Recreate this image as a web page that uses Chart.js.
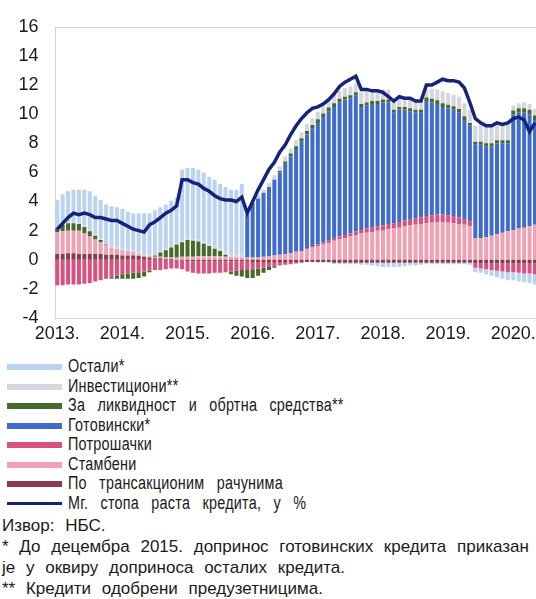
<!DOCTYPE html>
<html>
<head>
<meta charset="utf-8">
<script src="https://cdn.jsdelivr.net/npm/chart.js@4.4.1/dist/chart.umd.min.js"></script>
<style>
  html, body { margin:0; padding:0; background:#fff; }
  body { width:536px; height:599px; overflow:hidden; position:relative; font-family:"Liberation Sans", Arial, sans-serif; color:#1a1a1a; }
  #wrap { position:absolute; left:0; top:0; width:540px; height:352px; }
  #legend { position:absolute; left:0; top:357px; width:536px; }
  .row { position:relative; height:19.5px; }
  .sw { position:absolute; left:7px; top:7px; width:55px; height:6px; }
  .ln { position:absolute; left:7px; top:8.5px; width:55px; height:3px; }
  .tx { position:absolute; left:68px; top:0; line-height:19.5px; font-size:18px; white-space:nowrap;
        word-spacing:10px; letter-spacing:0.3px; transform:scaleX(0.8); transform-origin:0 50%; }
  #notes { position:absolute; left:2px; top:514.5px; width:620px; font-size:17px; line-height:21px; white-space:nowrap; word-spacing:6px; }
</style>
</head>
<body>
<div id="wrap"><canvas id="c" width="540" height="352"></canvas></div>
<div id="legend"></div>
<div id="notes"></div>
<script>
// ---- categories (monthly, Jan 2013 – May 2020) ----
const years = [2013, 2014, 2015, 2016, 2017, 2018, 2019, 2020];
const yearTickLabels = ['2013.', '2014.', '2015.', '2016.', '2017.', '2018.', '2019.', '2020.'];
const monthsShown = 89;
const categories = [];
for (let i = 0; i < monthsShown; i++) {
  categories.push(years[Math.floor(i / 12)] + '-' + String(i % 12 + 1).padStart(2, '0'));
}

// ---- series (contributions, p.p.) ----
const poTransakcionim = [
  0.4,0.4,0.45,0.45,0.4,0.4,0.4,0.4,0.4,0.35,0.35,0.35,
  0.3,0.3,0.3,0.25,0.2,0.15,0.1,0.1,0.05,0.05,0,-0.05,
  -0.1,-0.1,-0.1,-0.1,-0.1,-0.1,-0.1,-0.1,-0.1,-0.1,-0.1,-0.1,
  -0.15,-0.15,-0.15,-0.15,-0.15,-0.15,-0.15,-0.15,-0.15,-0.15,-0.15,-0.15,
  -0.15,-0.15,-0.15,-0.2,-0.2,-0.2,-0.2,-0.2,-0.2,-0.2,-0.2,-0.2,
  -0.2,-0.2,-0.2,-0.2,-0.2,-0.2,-0.2,-0.2,-0.2,-0.2,-0.2,-0.2,
  -0.2,-0.2,-0.2,-0.2,-0.2,-0.25,-0.25,-0.25,-0.25,-0.25,-0.25,-0.25,
  -0.25,-0.25,-0.25,-0.25,-0.25
];
const stambeni = [
  1.5,1.55,1.55,1.55,1.6,1.4,1.2,1.0,0.8,0.65,0.5,0.4,
  0.35,0.3,0.25,0.15,0.1,0.1,0.1,0.1,0.1,0.1,0.15,0.2,
  0.2,0.2,0.25,0.25,0.25,0.25,0.25,0.2,0.2,0.2,0.15,0.15,
  0.15,0.15,0.2,0.25,0.3,0.35,0.4,0.45,0.55,0.6,0.7,0.85,
  0.95,1.05,1.15,1.3,1.4,1.5,1.6,1.7,1.8,1.85,1.9,2.0,
  2.05,2.1,2.15,2.2,2.3,2.35,2.4,2.45,2.5,2.55,2.6,2.6,
  2.55,2.5,2.45,2.4,2.3,1.5,1.5,1.55,1.65,1.75,1.85,1.95,
  2.05,2.15,2.2,2.3,2.4
];
const potrosacki = [
  -1.75,-1.75,-1.7,-1.7,-1.7,-1.65,-1.6,-1.5,-1.4,-1.3,-1.2,-1.1,
  -1.0,-0.95,-0.9,-0.85,-0.8,-0.75,-0.7,-0.7,-0.65,-0.6,-0.6,-0.6,
  -0.7,-0.8,-0.85,-0.85,-0.85,-0.8,-0.8,-0.75,-0.7,-0.65,-0.6,-0.55,
  -0.5,-0.45,-0.4,-0.35,-0.3,-0.25,-0.2,-0.15,-0.1,-0.05,0.05,0.1,
  0.1,0.15,0.15,0.15,0.2,0.2,0.2,0.25,0.25,0.3,0.3,0.3,
  0.3,0.35,0.35,0.4,0.4,0.4,0.45,0.45,0.5,0.5,0.5,0.5,
  0.5,0.5,0.45,0.4,0.35,-0.3,-0.35,-0.4,-0.45,-0.5,-0.55,-0.6,
  -0.6,-0.65,-0.7,-0.7,-0.75
];
const gotovinski = [
  0,0,0,0,0,0,0,0,0,0,0,0,
  0,0,0,0,0,0,0,0,0,0,0,0,
  0,0,0,0,0,0,0,0,0,0,0,2.95,
  3.75,4.05,4.4,4.75,5.2,5.65,6.2,6.65,7.05,7.5,7.85,8.05,
  8.35,8.6,8.9,9.05,9.2,9.3,9.3,9.35,8.45,8.45,8.5,8.4,
  8.45,8.35,7.6,7.7,7.6,7.45,7.25,7.2,7.9,7.75,7.6,7.4,
  7.35,7.3,7.2,6.8,6.55,6.4,6.4,6.25,6.15,6.25,6.15,6.05,
  7.95,7.95,7.9,7.7,7.2
];
const likvidnost = [
  0.3,0.45,0.5,0.5,0.45,0.45,0.35,0.25,0.15,0.05,-0.1,-0.2,
  -0.3,-0.35,-0.4,-0.4,-0.35,-0.1,0.1,0.3,0.5,0.7,0.9,1.0,
  1.15,1.1,1.0,0.85,0.7,0.5,0.35,0.15,-0.2,-0.35,-0.45,-0.6,
  -0.6,-0.5,-0.35,-0.2,-0.1,0.1,0.15,0.2,0.2,0.25,0.25,0.25,
  0.25,0.25,0.25,0.25,0.25,0.2,0.2,0.2,0.2,0.2,0.2,0.2,
  0.2,0.2,0.2,0.2,0.2,0.2,0.2,0.2,0.25,0.25,0.25,0.25,
  0.25,0.25,0.25,0.25,0.2,0.2,0.2,0.2,0.2,0.2,0.2,0.2,
  0.25,0.3,0.3,0.3,0.3
];
const investicioni = [
  0.1,0.1,0.1,0.1,0.1,0.1,0.1,0.1,0.1,0.1,0.1,0.1,
  0.1,0.1,0.1,0.1,0.1,0.1,0.1,0.1,0.1,0.1,0.1,0.1,
  0.15,0.15,0.15,0.15,0.15,0.15,0.15,0.15,0.15,0.15,0.15,0.1,
  0.15,0.2,0.2,0.25,0.3,0.3,0.35,0.35,0.4,0.4,0.45,0.45,
  0.5,0.5,0.5,0.55,0.55,0.6,0.6,0.6,0.8,0.8,0.75,0.75,
  0.7,0.7,0.7,0.7,0.65,0.65,0.65,0.65,0.6,0.7,0.75,0.8,
  0.8,0.8,0.85,0.9,0.9,1.1,1.2,1.2,1.2,1.15,1.1,1.1,
  0.35,0.35,0.4,0.4,0.45
];
const ostali = [
  1.8,2.0,2.1,2.2,2.25,2.45,2.65,2.65,2.65,2.65,2.75,2.75,
  2.75,2.6,2.55,2.7,2.8,2.85,3.0,3.0,3.05,3.1,3.15,4.9,
  4.8,4.85,4.8,4.75,4.6,4.6,4.45,4.5,4.45,4.45,4.9,0.1,
  0.05,0.05,0,0,0,0,0,0,0,0,0,0,
  -0.05,-0.05,-0.05,-0.1,-0.1,-0.1,-0.1,-0.1,-0.15,-0.15,-0.2,-0.25,
  -0.3,-0.3,-0.3,-0.3,-0.25,-0.2,-0.2,-0.15,-0.1,-0.1,-0.1,-0.1,
  -0.1,-0.1,-0.1,-0.1,-0.15,-0.3,-0.3,-0.35,-0.4,-0.45,-0.5,-0.55,
  -0.55,-0.6,-0.6,-0.65,-0.7
];
const stopaRasta = [
  2.1,2.5,2.9,3.2,3.1,3.2,3.1,2.9,2.9,2.8,2.7,2.7,
  2.5,2.3,2.1,2.0,1.9,2.4,2.6,2.9,3.2,3.4,3.7,5.5,
  5.5,5.3,5.2,4.9,4.7,4.4,4.2,4.1,4.1,4.0,4.3,3.2,
  4.0,4.8,5.5,6.2,6.7,7.4,7.9,8.6,9.2,9.7,10.1,10.4,
  10.5,10.7,11.0,11.4,11.9,12.2,12.4,12.6,11.7,11.7,11.6,11.6,
  11.5,11.2,10.9,11.2,11.1,11.1,10.9,10.9,12.0,12.0,12.2,12.4,
  12.3,12.3,12.2,11.8,10.8,9.7,9.4,9.2,9.2,9.4,9.3,9.4,
  9.7,9.8,9.6,8.8,9.4
];

// ---- labels ----
const seriesNames = {
  poTransakcionim: 'По трансакционим рачунима',
  stambeni: 'Стамбени',
  potrosacki: 'Потрошачки',
  gotovinski: 'Готовински*',
  likvidnost: 'За ликвидност и обртна средства**',
  investicioni: 'Инвестициони**',
  ostali: 'Остали*',
  stopa: 'Мг. стопа раста кредита, у %'
};
const notes = [
  'Извор: НБС.',
  '* До децембра 2015. допринос готовинских кредита приказан',
  'је у оквиру доприноса осталих кредита.',
  '** Кредити одобрени предузетницима.'
];

const colors = {
  poTransakcionim: '#8c3a4e',
  stambeni: '#f0a2b4',
  potrosacki: '#d9517f',
  gotovinski: '#3f6bcc',
  likvidnost: '#476a2c',
  investicioni: '#d5d6de',
  ostali: '#bad3f1',
  stopa: '#15237a'
};

Chart.defaults.font.family = '"Liberation Sans", Arial, sans-serif';
Chart.defaults.color = '#1a1a1a';

function barSet(key, data) {
  return {
    type: 'bar', label: seriesNames[key], data: data,
    backgroundColor: colors[key], borderWidth: 0,
    barPercentage: 0.74, categoryPercentage: 1.0,
    stack: 'contrib', order: 1
  };
}

const frame = {
  id: 'frame',
  beforeDatasetsDraw(chart) {
    const a = chart.chartArea, ctx = chart.ctx;
    ctx.save();
    ctx.strokeStyle = '#d4d4d4';
    ctx.lineWidth = 1;
    ctx.strokeRect(Math.round(a.left) + 0.5, Math.round(a.top) + 0.5, a.right - a.left + 5, Math.round(a.bottom - a.top));
    ctx.restore();
  }
};

const chart = new Chart(document.getElementById('c'), {
  data: {
    labels: categories,
    datasets: [
      barSet('poTransakcionim', poTransakcionim),
      barSet('stambeni', stambeni),
      barSet('potrosacki', potrosacki),
      barSet('gotovinski', gotovinski),
      barSet('likvidnost', likvidnost),
      barSet('investicioni', investicioni),
      barSet('ostali', ostali),
      {
        type: 'line', label: seriesNames.stopa, data: stopaRasta,
        borderColor: colors.stopa, borderWidth: 3.5, pointRadius: 0,
        tension: 0, fill: false, stack: 'rate', order: 0
      }
    ]
  },
  options: {
    responsive: false,
    animation: false,
    layout: { padding: { top: 22, left: 0, right: 0, bottom: 0 } },
    plugins: { legend: { display: false }, tooltip: { enabled: false } },
    scales: {
      x: {
        stacked: true,
        grid: { display: false, drawTicks: false },
        border: { display: false },
        ticks: {
          autoSkip: false, maxRotation: 0, minRotation: 0,
          font: { size: 18 }, color: '#1a1a1a', padding: 5,
          callback: function(value, index) {
            return index % 12 === 0 ? yearTickLabels[index / 12] : '';
          }
        },
        afterFit: function(scale) { scale.height = 352 - 318; }
      },
      y: {
        stacked: true,
        min: -4, max: 16,
        grid: { display: false, drawTicks: false },
        border: { display: false },
        ticks: { stepSize: 2, font: { size: 18 }, color: '#1a1a1a', padding: 16 },
        afterFit: function(scale) { scale.width = 54.5; }
      }
    }
  },
  plugins: [frame]
});

// ---- HTML legend, built from the chart's datasets (reverse stacking order, then line) ----
const legend = document.getElementById('legend');
const ds = chart.data.datasets;
const order = [6, 5, 4, 3, 2, 1, 0, 7];
order.forEach(function(i) {
  const d = ds[i];
  const row = document.createElement('div');
  row.className = 'row';
  const sw = document.createElement('div');
  if (d.type === 'line') { sw.className = 'ln'; sw.style.background = d.borderColor; }
  else { sw.className = 'sw'; sw.style.background = d.backgroundColor; }
  const tx = document.createElement('div');
  tx.className = 'tx';
  tx.textContent = d.label;
  row.appendChild(sw); row.appendChild(tx);
  legend.appendChild(row);
});
const notesEl = document.getElementById('notes');
notes.forEach(function(t) {
  const n = document.createElement('div');
  n.textContent = t;
  notesEl.appendChild(n);
});
</script>
</body>
</html>
